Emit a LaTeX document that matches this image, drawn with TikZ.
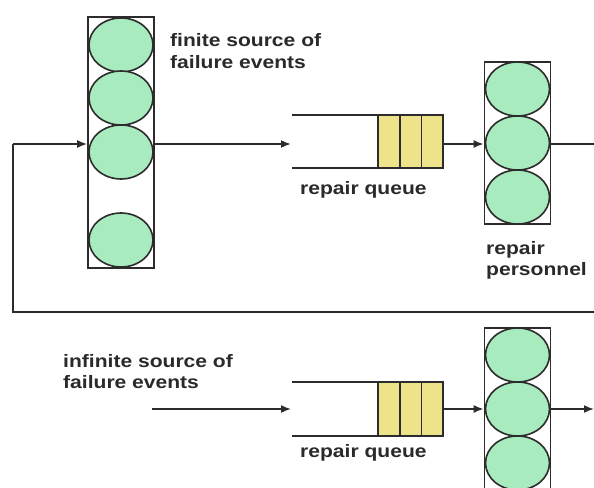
\documentclass[tikz,border=0pt]{standalone}
\usepackage{fontspec}
\newfontfamily\lbl{Liberation Sans}[FakeStretch=1.17]
\usetikzlibrary{shapes.geometric,arrows.meta}
\definecolor{srvgreen}{HTML}{A8EBBE}
\definecolor{qyellow}{HTML}{EEE38A}
\definecolor{ln}{HTML}{2C2C2C}
\definecolor{txt}{HTML}{2A2A2A}
\tikzset{
  wire/.style={draw=ln,line width=1.7pt},
  arr/.style={wire,-{Latex[length=10pt,width=8pt]}},
  column/.style={draw=ln,line width=1.7pt,rectangle,inner sep=0pt,minimum width=66pt},
  srv/.style={ellipse,draw=ln,line width=1.6pt,fill=srvgreen,inner sep=0pt,minimum width=64pt,minimum height=54pt},
  cell/.style={rectangle,draw=ln,line width=1.6pt,fill=qyellow,inner sep=0pt,minimum width=21.7pt,minimum height=53pt},
  lab/.style={anchor=base west,inner sep=0pt,text=txt,font=\lbl\bfseries\fontsize{18}{21}\selectfont}
}
\begin{document}
\begin{tikzpicture}[x=1pt,y=-1pt]
\useasboundingbox (0,0) rectangle (594,487);
\fill[white] (0,0) rectangle (594,487);
% finite source column
\node[column,minimum height=251pt] (src) at (121,142.5) {};
\node[srv] (s1) at (121,45) {};
\node[srv] (s2) at (121,98) {};
\node[srv] (s3) at (121,152) {};
\node[srv] (s4) at (121,240) {};
\node[lab] (fin1) at (170,47) {finite source of};
\node[lab] (fin2) at (170,68) {failure events};
% top queue
\coordinate (qa1) at (292,115);
\coordinate (qa2) at (443,115);
\coordinate (qb1) at (292,168);
\coordinate (qb2) at (443,168);
\draw[wire] (qa1) -- (qa2);
\draw[wire] (qb1) -- (qb2);
\node[cell] (c1) at (389,141.5) {};
\node[cell] (c2) at (410.7,141.5) {};
\node[cell] (c3) at (432.3,141.5) {};
\coordinate (qin) at (291,144);
\node[lab] (rq1) at (300,194) {repair queue};
% top servers
\node[column,minimum height=162pt] (per) at (517.5,143) {};
\node[srv] (p1) at (517.5,89) {};
\node[srv] (p2) at (517.5,143) {};
\node[srv] (p3) at (517.5,197) {};
\node[lab] (rp1) at (486,254) {repair};
\node[lab] (rp2) at (486,275) {personnel};
% connectors top
\draw[arr] (154,144) -- (qin);
\draw[arr] (c3.east |- 0,144) -- (per.west |- 0,144);
\coordinate (tout) at (594,144);
\draw[wire] (per.east |- tout) -- (tout);
% feedback loop
\coordinate (fbr) at (594,312);
\coordinate (fbl) at (13,312);
\coordinate (fbt) at (13,144);
\draw[wire,line join=miter] (fbr) -- (fbl) -- (fbt);
\draw[arr] (fbt) -- (src.west |- fbt);
% infinite source
\node[lab] (inf1) at (63,367) {infinite source of};
\node[lab] (inf2) at (63,388) {failure events};
\coordinate (infs) at (152,409);
\coordinate (qin2) at (291,409);
\draw[arr] (infs) -- (qin2);
% bottom queue
\coordinate (qc1) at (292,382);
\coordinate (qc2) at (443,382);
\coordinate (qd1) at (292,436);
\coordinate (qd2) at (443,436);
\draw[wire] (qc1) -- (qc2);
\draw[wire] (qd1) -- (qd2);
\node[cell,minimum height=54pt] (d1) at (389,409) {};
\node[cell,minimum height=54pt] (d2) at (410.7,409) {};
\node[cell,minimum height=54pt] (d3) at (432.3,409) {};
\node[lab] (rq2) at (300,457) {repair queue};
% bottom servers
\node[column,minimum height=170pt] (per2) at (517.5,413) {};
\node[srv] (b1) at (517.5,355) {};
\node[srv] (b2) at (517.5,409) {};
\node[srv] (b3) at (517.5,463) {};
\draw[arr] (d3.east) -- (per2.west |- d3.east);
\coordinate (bout) at (594,409);
\draw[arr] (per2.east |- bout) -- (bout);
\end{tikzpicture}
\end{document}
